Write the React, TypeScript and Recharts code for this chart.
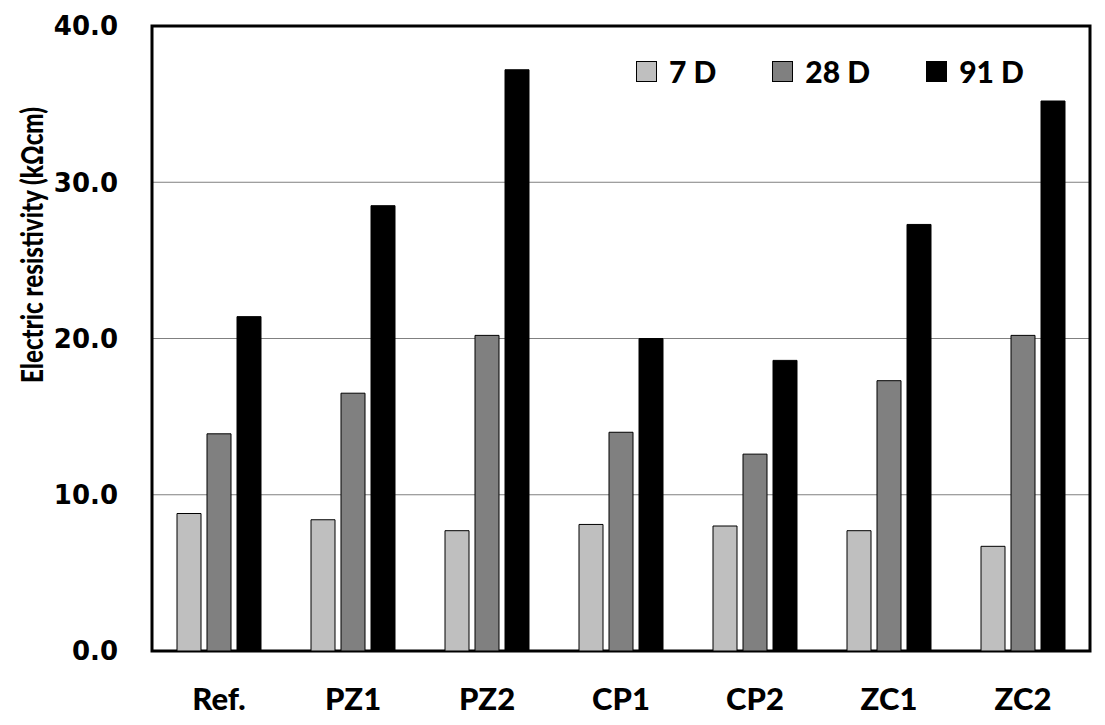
import { BarChart, Bar, XAxis, YAxis, CartesianGrid, ReferenceArea, Label } from "recharts";

const mixes = ["Ref.", "PZ1", "PZ2", "CP1", "CP2", "ZC1", "ZC2"];
const day7 = [8.8, 8.4, 7.7, 8.1, 8.0, 7.7, 6.7];
const day28 = [13.9, 16.5, 20.2, 14.0, 12.6, 17.3, 20.2];
const day91 = [21.4, 28.5, 37.2, 20.0, 18.6, 27.3, 35.2];
const yTicks = [0, 10, 20, 30, 40];

const series = [
  { key: "d7", label: "7 D", color: "#BFBFBF" },
  { key: "d28", label: "28 D", color: "#808080" },
  { key: "d91", label: "91 D", color: "#000000" },
];

const data = mixes.map((name, i) => ({
  name,
  d7: day7[i],
  d28: day28[i],
  d91: day91[i],
}));

const font = "Lato, 'Open Sans', sans-serif";

function LegendBox() {
  return (
    <div style={{ position: "absolute", left: 636, top: 51, display: "flex", gap: 56, alignItems: "center" }}>
      {series.map((s) => (
        <div key={s.key} style={{ display: "flex", alignItems: "center", gap: 12 }}>
          <span
            style={{
              width: 19,
              height: 19,
              background: s.color,
              border: "1px solid #000",
              display: "block",
            }}
          />
          <span style={{ fontFamily: font, fontWeight: 900, fontSize: 30, color: "#000", lineHeight: "40px" }}>
            {s.label}
          </span>
        </div>
      ))}
    </div>
  );
}

function XTick({ x, y, payload }: any) {
  return (
    <text x={x} y={y + 59} textAnchor="middle" fill="#000" fontFamily={font} fontWeight={900} fontSize={31}>
      {payload.value}
    </text>
  );
}

function YTick({ x, y, payload }: any) {
  return (
    <text x={x - 34} y={y} dy="0.36em" textAnchor="end" fill="#000"
      fontFamily="'DejaVu Sans', Verdana, sans-serif" fontWeight={700} fontSize={26}>
      {Number(payload.value).toFixed(1)}
    </text>
  );
}

export default function App() {
  return (
    <div style={{ position: "absolute", left: 0, top: 0, width: 1105, height: 725, background: "#fff" }}>
      <BarChart
        width={1105}
        height={725}
        data={data}
        margin={{ top: 26, right: 15, bottom: 0, left: 0 }}
        barSize={24}
        barGap={6}
      >
        <CartesianGrid vertical={false} stroke="#808080" strokeWidth={1} />
        <XAxis
          dataKey="name"
          height={74}
          tickSize={0}
          tickMargin={0}
          axisLine={false}
          tick={<XTick />}
        />
        <YAxis
          domain={[0, 40]}
          ticks={yTicks}
          width={152}
          tickSize={0}
          tickMargin={0}
          interval={0}
          axisLine={false}
          tick={<YTick />}
        >
          <Label
            content={() => (
              <text
                x={43}
                y={245}
                transform="rotate(-90 43 245)"
                textAnchor="middle"
                fill="#000"
                fontFamily={font}
                fontWeight={900}
                fontSize={30}
                textLength={276}
                lengthAdjust="spacingAndGlyphs"
              >
                Electric resistivity (kΩcm)
              </text>
            )}
          />
        </YAxis>
        {series.map((s) => (
          <Bar
            key={s.key}
            dataKey={s.key}
            name={s.label}
            fill={s.color}
            stroke="#000"
            strokeWidth={1}
            isAnimationActive={false}
          />
        ))}
        <ReferenceArea y1={0} y2={40} fill="none" stroke="#000" strokeWidth={3} ifOverflow="visible" />
      </BarChart>
      <LegendBox />
    </div>
  );
}
